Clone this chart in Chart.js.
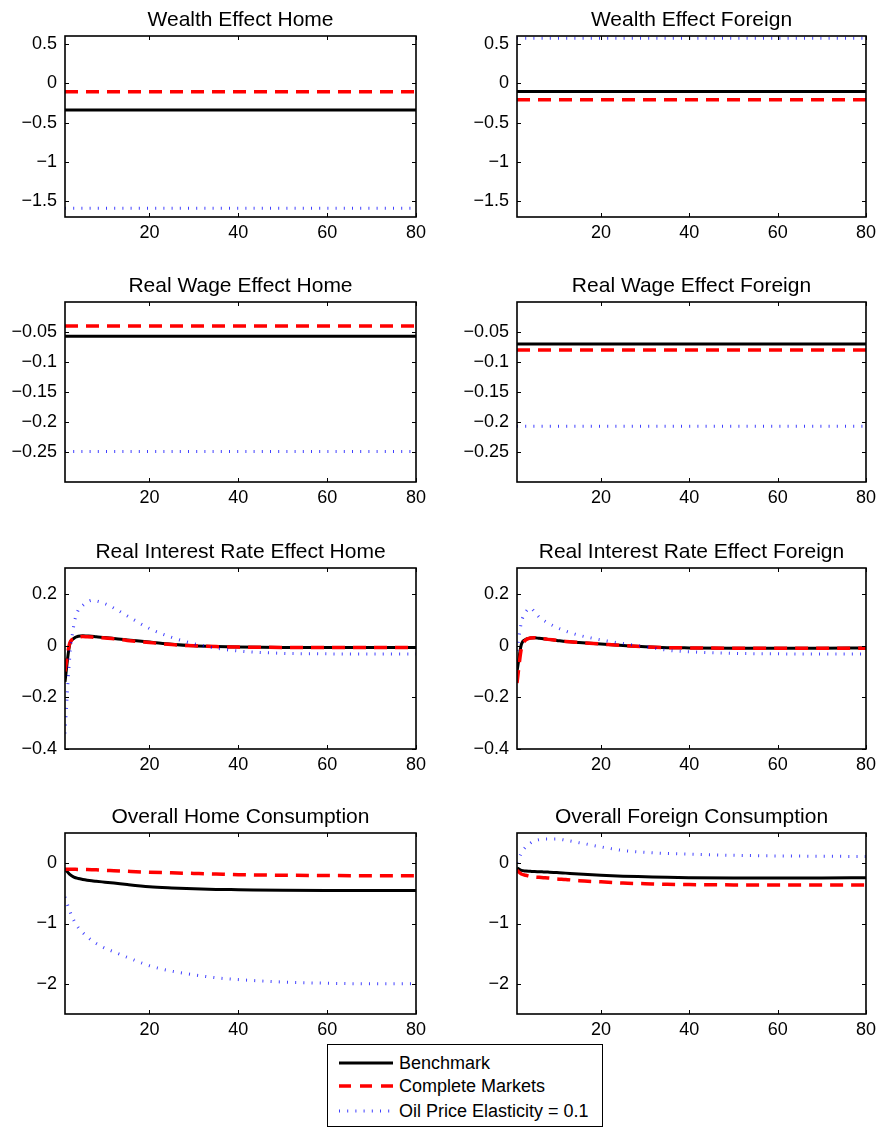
<!DOCTYPE html>
<html>
<head>
<meta charset="utf-8">
<script src="https://cdn.jsdelivr.net/npm/chart.js@4"></script>
<style>
  body { margin: 0; background: #fff; font-family: "Liberation Sans", Arial, sans-serif; }
  #page { position: relative; width: 881px; height: 1127px; }
  canvas { position: absolute; }
  #legend { position: absolute; left: 327px; top: 1044px; width: 274px; height: 81px;
            border: 1.5px solid #000; background: #fff; z-index: 2; }
  .row { position: absolute; left: 0; height: 24px; width: 100%; }
  .row svg { position: absolute; left: 10px; top: 0; }
  .row span { position: absolute; left: 71px; top: 1px; font-size: 18px; line-height: 22px; color: #000; }
</style>
</head>
<body>
<div id="page">
  <canvas id="c1" width="440" height="247"></canvas>
  <canvas id="c2" width="441" height="247"></canvas>
  <canvas id="c3" width="440" height="246"></canvas>
  <canvas id="c4" width="441" height="246"></canvas>
  <canvas id="c5" width="440" height="247"></canvas>
  <canvas id="c6" width="441" height="247"></canvas>
  <canvas id="c7" width="440" height="247"></canvas>
  <canvas id="c8" width="441" height="247"></canvas>
  <div id="legend">
    <div class="row" style="top:6px">
      <svg width="58" height="24"><line x1="1" y1="12" x2="55" y2="12" stroke="#000" stroke-width="3"/></svg>
      <span>Benchmark</span>
    </div>
    <div class="row" style="top:29px">
      <svg width="58" height="24"><line x1="1" y1="12" x2="55" y2="12" stroke="#f00" stroke-width="3.5" stroke-dasharray="12 9"/></svg>
      <span>Complete Markets</span>
    </div>
    <div class="row" style="top:54px">
      <svg width="58" height="24"><line x1="1" y1="12" x2="55" y2="12" stroke="rgba(0,0,255,0.75)" stroke-width="3" stroke-dasharray="1 7.2"/></svg>
      <span>Oil Price Elasticity = 0.1</span>
    </div>
  </div>
</div>
<script>
const periods = [1, 2, 3, 4, 5, 6, 7, 8, 10, 12, 15, 20, 25, 30, 35, 40, 50, 60, 70, 80];
const flatPeriods = [1, 80];
const xTicks = [20, 40, 60, 80];

const seriesNames = ["Benchmark", "Complete Markets", "Oil Price Elasticity = 0.1"];

// wealth effect (flat)
const wealthHomeBench = [-0.34, -0.34];
const wealthHomeComplete = [-0.11, -0.11];
const wealthHomeOil = [-1.59, -1.59];
const wealthForeignBench = [-0.105, -0.105];
const wealthForeignComplete = [-0.21, -0.21];
const wealthForeignOil = [0.57, 0.57];
const wealthTicks = [-1.5, -1, -0.5, 0, 0.5];

// real wage effect (flat)
const wageHomeBench = [-0.057, -0.057];
const wageHomeComplete = [-0.04, -0.04];
const wageHomeOil = [-0.249, -0.249];
const wageForeignBench = [-0.07, -0.07];
const wageForeignComplete = [-0.08, -0.08];
const wageForeignOil = [-0.207, -0.207];
const wageTicks = [-0.25, -0.2, -0.15, -0.1, -0.05];

// real interest rate effect
const rateHomeBench = [-0.14, 0.0, 0.028, 0.036, 0.038, 0.037, 0.036, 0.034, 0.031, 0.027, 0.022, 0.014, 0.005, -0.001, -0.004, -0.006, -0.007, -0.007, -0.007, -0.007];
const rateHomeComplete = [-0.1, 0.005, 0.027, 0.033, 0.035, 0.034, 0.033, 0.032, 0.029, 0.026, 0.02, 0.012, 0.004, -0.001, -0.004, -0.006, -0.007, -0.007, -0.007, -0.007];
const rateHomeOil = [-0.34, -0.06, 0.08, 0.138, 0.155, 0.168, 0.175, 0.173, 0.162, 0.145, 0.115, 0.066, 0.032, 0.007, -0.01, -0.021, -0.03, -0.032, -0.033, -0.033];
const rateForeignBench = [-0.1, 0.005, 0.024, 0.029, 0.03, 0.028, 0.026, 0.024, 0.02, 0.016, 0.012, 0.006, 0.0, -0.005, -0.008, -0.009, -0.01, -0.01, -0.01, -0.009];
const rateForeignComplete = [-0.145, -0.01, 0.022, 0.029, 0.03, 0.028, 0.026, 0.024, 0.02, 0.016, 0.012, 0.006, 0.0, -0.005, -0.008, -0.009, -0.01, -0.01, -0.01, -0.01];
const rateForeignOil = [-0.02, 0.09, 0.13, 0.145, 0.13, 0.11, 0.098, 0.088, 0.07, 0.056, 0.04, 0.022, 0.008, -0.004, -0.018, -0.024, -0.03, -0.032, -0.033, -0.033];
const rateTicks = [-0.4, -0.2, 0, 0.2];

// overall consumption
const consHomeBench = [-0.1, -0.18, -0.23, -0.255, -0.27, -0.282, -0.292, -0.3, -0.315, -0.33, -0.355, -0.39, -0.41, -0.425, -0.435, -0.44, -0.45, -0.455, -0.455, -0.455];
const consHomeComplete = [-0.1, -0.1, -0.102, -0.104, -0.105, -0.107, -0.109, -0.111, -0.12, -0.125, -0.135, -0.15, -0.16, -0.17, -0.18, -0.19, -0.2, -0.205, -0.21, -0.21];
const consHomeOil = [-0.56, -0.78, -0.95, -1.07, -1.15, -1.22, -1.28, -1.33, -1.41, -1.47, -1.56, -1.7, -1.79, -1.85, -1.9, -1.93, -1.97, -1.99, -2.0, -2.0];
const consForeignBench = [-0.08, -0.12, -0.13, -0.135, -0.14, -0.142, -0.145, -0.148, -0.155, -0.165, -0.18, -0.2, -0.215, -0.225, -0.235, -0.24, -0.245, -0.245, -0.245, -0.24];
const consForeignComplete = [-0.12, -0.18, -0.2, -0.22, -0.23, -0.235, -0.24, -0.245, -0.26, -0.27, -0.29, -0.31, -0.33, -0.34, -0.35, -0.355, -0.36, -0.36, -0.36, -0.36];
const consForeignOil = [0.0, 0.17, 0.27, 0.33, 0.37, 0.39, 0.4, 0.4, 0.4, 0.38, 0.34, 0.27, 0.21, 0.18, 0.16, 0.15, 0.13, 0.12, 0.115, 0.11];
const consTicks = [-2, -1, 0];

const panels = [
  { id: "c1", title: "Wealth Effect Home", x: flatPeriods, ys: [wealthHomeBench, wealthHomeComplete, wealthHomeOil], min: -1.7, max: 0.6, ticks: wealthTicks, col: 0, row: 0 },
  { id: "c2", title: "Wealth Effect Foreign", x: flatPeriods, ys: [wealthForeignBench, wealthForeignComplete, wealthForeignOil], min: -1.7, max: 0.6, ticks: wealthTicks, col: 1, row: 0 },
  { id: "c3", title: "Real Wage Effect Home", x: flatPeriods, ys: [wageHomeBench, wageHomeComplete, wageHomeOil], min: -0.3, max: 0, ticks: wageTicks, col: 0, row: 1 },
  { id: "c4", title: "Real Wage Effect Foreign", x: flatPeriods, ys: [wageForeignBench, wageForeignComplete, wageForeignOil], min: -0.3, max: 0, ticks: wageTicks, col: 1, row: 1 },
  { id: "c5", title: "Real Interest Rate Effect Home", x: periods, ys: [rateHomeBench, rateHomeComplete, rateHomeOil], min: -0.4, max: 0.3, ticks: rateTicks, col: 0, row: 2 },
  { id: "c6", title: "Real Interest Rate Effect Foreign", x: periods, ys: [rateForeignBench, rateForeignComplete, rateForeignOil], min: -0.4, max: 0.3, ticks: rateTicks, col: 1, row: 2 },
  { id: "c7", title: "Overall Home Consumption", x: periods, ys: [consHomeBench, consHomeComplete, consHomeOil], min: -2.5, max: 0.5, ticks: consTicks, col: 0, row: 3 },
  { id: "c8", title: "Overall Foreign Consumption", x: periods, ys: [consForeignBench, consForeignComplete, consForeignOil], min: -2.5, max: 0.5, ticks: consTicks, col: 1, row: 3 },
];

const cols = [
  { left: 0, yWidth: 65, padRight: 24 },
  { left: 440, yWidth: 77, padRight: 13 },
];
const rows = [
  { top: 0, plotH: 181 },
  { top: 266, plotH: 180 },
  { top: 532, plotH: 181 },
  { top: 797, plotH: 181 },
];
const TITLE_SPACE = 36;
const XAXIS_H = 30;
const FONT = '"Liberation Sans", Arial, sans-serif';

const styles = [
  { borderColor: "#000", borderWidth: 3, borderDash: [] },
  { borderColor: "#ff0000", borderWidth: 3.5, borderDash: [13, 8] },
  { borderColor: "rgba(0,0,255,0.75)", borderWidth: 3, borderDash: [1, 7.2] },
];

function fmt(v) {
  return String(v).replace("-", "\u2212");
}

// matlab-like box with inward ticks, plus the panel title
const boxPlugin = {
  id: "boxPlugin",
  afterDraw(chart, args, opts) {
    const { ctx, chartArea: a } = chart;
    const xs = chart.scales.x;
    const ys = chart.scales.y;
    ctx.save();
    ctx.strokeStyle = "#000";
    ctx.lineWidth = 1;
    ctx.beginPath();
    xs.ticks.forEach(function (t) {
      const px = Math.round(xs.getPixelForValue(t.value)) + 0.5;
      ctx.moveTo(px, a.bottom);
      ctx.lineTo(px, a.bottom - 4);
      ctx.moveTo(px, a.top);
      ctx.lineTo(px, a.top + 4);
    });
    ys.ticks.forEach(function (t) {
      const py = Math.round(ys.getPixelForValue(t.value)) + 0.5;
      ctx.moveTo(a.left, py);
      ctx.lineTo(a.left + 4, py);
      ctx.moveTo(a.right, py);
      ctx.lineTo(a.right - 4, py);
    });
    ctx.stroke();
    ctx.lineWidth = 1.6;
    ctx.strokeRect(a.left, a.top, a.right - a.left, a.bottom - a.top);
    ctx.fillStyle = "#000";
    ctx.font = "21px " + FONT;
    ctx.textAlign = "center";
    ctx.textBaseline = "alphabetic";
    ctx.fillText(opts.text, (a.left + a.right) / 2, a.top - 10);
    ctx.restore();
  },
};

panels.forEach(function (p) {
  const col = cols[p.col];
  const row = rows[p.row];
  const canvas = document.getElementById(p.id);
  canvas.width = p.col === 0 ? 440 : 441;
  canvas.height = TITLE_SPACE + row.plotH + XAXIS_H;
  canvas.style.left = col.left + "px";
  canvas.style.top = row.top + "px";

  const datasets = p.ys.map(function (vals, i) {
    return {
      label: seriesNames[i],
      data: vals.map(function (v, k) { return { x: p.x[k], y: v }; }),
      borderColor: styles[i].borderColor,
      borderWidth: styles[i].borderWidth,
      borderDash: styles[i].borderDash,
      borderCapStyle: "butt",
      pointRadius: 0,
      fill: false,
      cubicInterpolationMode: "monotone",
      order: 2 - i,
    };
  });
  // draw benchmark under the others like matlab's plot order
  datasets.forEach(function (d, i) { d.order = 3 - i; });

  new Chart(canvas, {
    type: "line",
    data: { datasets },
    options: {
      responsive: false,
      animation: false,
      devicePixelRatio: 1,
      layout: { padding: { top: TITLE_SPACE, right: col.padRight, left: 0, bottom: 0 } },
      plugins: {
        legend: { display: false },
        tooltip: { enabled: false },
        title: { display: false },
        boxPlugin: { text: p.title },
      },
      scales: {
        x: {
          type: "linear",
          min: 1,
          max: 80,
          grid: { display: false, drawTicks: false },
          border: { display: false },
          afterBuildTicks: function (s) { s.ticks = xTicks.map(function (v) { return { value: v }; }); },
          afterFit: function (s) { s.height = XAXIS_H; },
          ticks: {
            color: "#000",
            font: { size: 18, family: FONT },
            padding: 5,
            maxRotation: 0,
            autoSkip: false,
            callback: function (v) { return fmt(v); },
          },
        },
        y: {
          type: "linear",
          min: p.min,
          max: p.max,
          grid: { display: false, drawTicks: false },
          border: { display: false },
          afterBuildTicks: function (s) { s.ticks = p.ticks.map(function (v) { return { value: v }; }); },
          afterFit: function (s) { s.width = col.yWidth; },
          ticks: {
            color: "#000",
            font: { size: 18, family: FONT },
            padding: 8,
            autoSkip: false,
            callback: function (v) { return fmt(v); },
          },
        },
      },
    },
    plugins: [boxPlugin],
  });
});
</script>
</body>
</html>
